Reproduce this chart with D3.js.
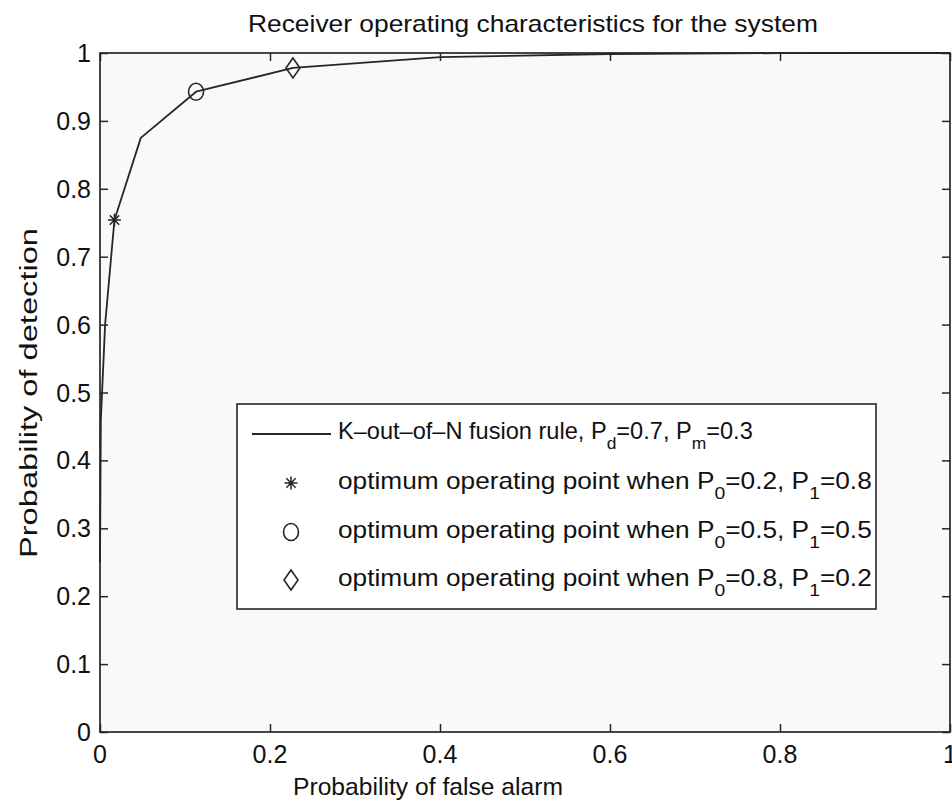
<!DOCTYPE html>
<html>
<head>
<meta charset="utf-8">
<script src="https://cdn.jsdelivr.net/npm/d3@7"></script>
<style>
  html, body { margin: 0; padding: 0; background: #fff; }
  svg { display: block; }
  text { font-family: "Liberation Sans", Arial, Helvetica, sans-serif; fill: #111; }
</style>
</head>
<body>
<svg id="chart" width="952" height="803"></svg>
<script>
// ROC curve of the K-out-of-N fusion rule
const rocPf = [0, 0.001, 0.006, 0.017, 0.048, 0.113, 0.227, 0.4, 0.6, 0.8, 1];
const rocPd = [0.25, 0.46, 0.6, 0.754, 0.875, 0.943, 0.978, 0.994, 0.9985, 0.9998, 1];

// optimum operating points for three priors
const optP0 = ["0.2", "0.5", "0.8"];
const optP1 = ["0.8", "0.5", "0.2"];
const optPf = [0.017, 0.113, 0.227];
const optPd = [0.754, 0.943, 0.978];
const optMarkers = ["star", "circle", "diamond"];

const xTicks = [0, 0.2, 0.4, 0.6, 0.8, 1];
const yTicks = [0, 0.1, 0.2, 0.3, 0.4, 0.5, 0.6, 0.7, 0.8, 0.9, 1];

const titleText = "Receiver operating characteristics for the system";
const xLabelText = "Probability of false alarm";
const yLabelText = "Probability of detection";

const svg = d3.select("#chart");
const ink = "#262626";

const plot = { left: 100, right: 950, top: 53, bottom: 732 };
const x = d3.scaleLinear().domain([0, 1]).range([plot.left, plot.right]);
const y = d3.scaleLinear().domain([0, 1]).range([plot.bottom, plot.top]);

// squeeze a text element horizontally to a given width
function fitWidth(sel, tx, ty, w) {
  const bb = sel.node().getBBox();
  const k = w / bb.width;
  sel.attr("x", 0).attr("y", 0)
     .attr("transform", `translate(${tx},${ty}) scale(${k},1)`);
}

// axes background
svg.append("rect")
  .attr("x", plot.left).attr("y", plot.top)
  .attr("width", plot.right - plot.left).attr("height", plot.bottom - plot.top)
  .attr("fill", "#f9f9f9");

// inward ticks on all four sides
const tickLen = 8;
const axisStyle = g => {
  g.select(".domain").remove();
  g.selectAll(".tick line").attr("stroke", ink).attr("stroke-width", 1.5);
  g.selectAll(".tick text").remove();
};
svg.append("g").attr("transform", `translate(0,${plot.bottom})`)
  .call(d3.axisBottom(x).tickValues(xTicks).tickSize(-tickLen)).call(axisStyle);
svg.append("g").attr("transform", `translate(0,${plot.top})`)
  .call(d3.axisTop(x).tickValues(xTicks).tickSize(-tickLen)).call(axisStyle);
svg.append("g").attr("transform", `translate(${plot.left},0)`)
  .call(d3.axisLeft(y).tickValues(yTicks).tickSize(-tickLen)).call(axisStyle);
svg.append("g").attr("transform", `translate(${plot.right},0)`)
  .call(d3.axisRight(y).tickValues(yTicks).tickSize(-tickLen)).call(axisStyle);

// box
svg.append("rect")
  .attr("x", plot.left).attr("y", plot.top)
  .attr("width", plot.right - plot.left).attr("height", plot.bottom - plot.top)
  .attr("fill", "none").attr("stroke", ink).attr("stroke-width", 1.7);

// tick labels
const fmt = d => (d === 0 || d === 1) ? String(d) : d3.format(".1f")(d);
svg.append("g").selectAll("text").data(xTicks).join("text")
  .attr("x", d => x(d)).attr("y", plot.bottom + 31)
  .attr("text-anchor", "middle").attr("font-size", 25)
  .text(fmt);
svg.append("g").selectAll("text").data(yTicks).join("text")
  .attr("x", plot.left - 9).attr("y", d => y(d) + 9)
  .attr("text-anchor", "end").attr("font-size", 25)
  .text(fmt);

// ROC line
const pts = rocPf.map((p, i) => [p, rocPd[i]]);
svg.append("path")
  .datum(pts)
  .attr("fill", "none").attr("stroke", ink).attr("stroke-width", 1.8)
  .attr("stroke-linejoin", "round")
  .attr("d", d3.line().x(d => x(d[0])).y(d => y(d[1])));

// marker shapes
function drawMarker(g, kind, cx, cy) {
  if (kind === "star") {
    const r = 6.5;
    const p = d3.path();
    p.moveTo(cx - r, cy); p.lineTo(cx + r, cy);
    p.moveTo(cx, cy - r); p.lineTo(cx, cy + r);
    const d = r * 0.72;
    p.moveTo(cx - d, cy - d); p.lineTo(cx + d, cy + d);
    p.moveTo(cx - d, cy + d); p.lineTo(cx + d, cy - d);
    g.append("path").attr("d", p.toString())
      .attr("stroke", ink).attr("stroke-width", 1.5).attr("fill", "none");
  } else if (kind === "circle") {
    g.append("ellipse").attr("cx", cx).attr("cy", cy).attr("rx", 7.5).attr("ry", 8.5)
      .attr("fill", "none").attr("stroke", ink).attr("stroke-width", 1.6);
  } else {
    const w = 7, h = 10;
    g.append("path")
      .attr("d", `M${cx},${cy - h}L${cx + w},${cy}L${cx},${cy + h}L${cx - w},${cy}Z`)
      .attr("fill", "none").attr("stroke", ink).attr("stroke-width", 1.6);
  }
}
const mg = svg.append("g");
optPf.forEach((p, i) => drawMarker(mg, optMarkers[i], x(p), y(optPd[i])));

// legend
const leg = { x: 237, y: 404, w: 639, h: 205 };
svg.append("rect")
  .attr("x", leg.x).attr("y", leg.y).attr("width", leg.w).attr("height", leg.h)
  .attr("fill", "#fff").attr("stroke", ink).attr("stroke-width", 1.6);

const rowY = [431, 481, 530, 578];
const textX = 338, symX = 291;
const lg = svg.append("g");
lg.append("line").attr("x1", 252).attr("x2", 331).attr("y1", rowY[0] + 3).attr("y2", rowY[0] + 3)
  .attr("stroke", ink).attr("stroke-width", 1.8);
optMarkers.forEach((m, i) => drawMarker(lg, m, symX, rowY[i + 1] + 2));

// legend entry with subscripts: parts alternate text / subscript
function subText(parts, yy, width) {
  const t = lg.append("text").attr("font-size", 23);
  let lowered = false;
  parts.forEach(p => {
    const ts = t.append("tspan");
    if (p.sub) {
      ts.attr("dy", 10).attr("font-size", 17).text(p.sub);
      lowered = true;
    } else {
      if (lowered) { ts.attr("dy", -10); lowered = false; }
      ts.text(p.t);
    }
  });
  fitWidth(t, textX, yy + 8, width);
  return t;
}
subText([{t: "K\u2013out\u2013of\u2013N fusion rule, P"}, {sub: "d"}, {t: "=0.7, P"}, {sub: "m"}, {t: "=0.3"}], rowY[0], 415);
optP0.forEach((p0, i) => {
  subText([{t: "optimum operating point when P"}, {sub: "0"}, {t: "=" + p0 + ", P"}, {sub: "1"}, {t: "=" + optP1[i]}],
    rowY[i + 1], 534);
});

// title and axis labels
const title = svg.append("text").attr("font-size", 24).text(titleText);
fitWidth(title, 248, 32, 570);

const xl = svg.append("text").attr("font-size", 24).text(xLabelText);
fitWidth(xl, 293, 795, 270);

const yl = svg.append("text").attr("font-size", 23).text(yLabelText);
const ky = 330 / yl.node().getBBox().width;
yl.attr("transform", `translate(37,558) rotate(-90) scale(${ky},1)`);
</script>
</body>
</html>
